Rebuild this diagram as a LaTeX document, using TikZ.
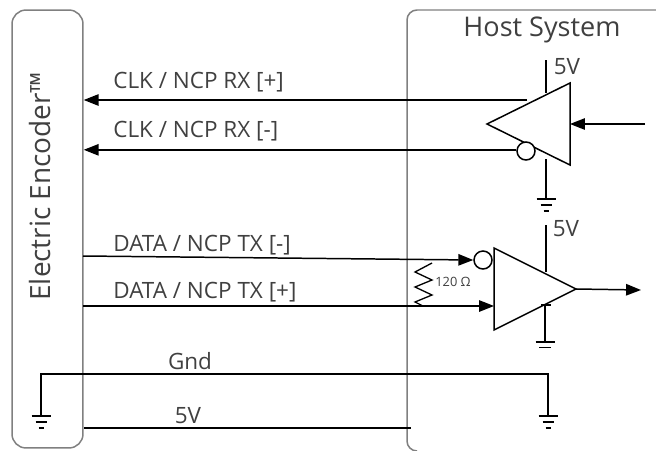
\documentclass[tikz,border=0pt]{standalone}
\usepackage{fontspec}
\setmainfont{Open Sans}
\usetikzlibrary{
    arrows.meta,
    calc,
    positioning
}
\definecolor{boxgray}{gray}{0.5}
\definecolor{textgray}{gray}{0.25}
\tikzset{
    wire/.style={line width=0.85pt, black},
    sig/.style={wire, -{Triangle[length=8.5pt, width=6.5pt]}},
    frame/.style={line width=0.85pt, boxgray},
    label/.style={text=textgray, font=\fontsize{12.8}{14}\selectfont, inner sep=0pt},
    bubble/.style={draw, wire, circle, fill=white, inner sep=0pt, minimum size=0.36cm},
    pics/earth/.style={code={
        \draw[wire] (-9.5, 0) -- (9.5, 0) (-5.5, 6) -- (5.5, 6) (-2.5, 12) -- (2.5, 12);
    }},
    pics/earthshort/.style={code={
        \draw[wire] (-9.5, 0) -- (9.5, 0) (-6, 5.5) -- (6, 5.5);
    }}
}
\begin{document}
\begin{tikzpicture}[x=0.02cm, y=-0.02cm]
    \useasboundingbox (0, 0) rectangle (656, 450);

    % boxes
    \node[draw, frame, rounded corners=0.28cm, minimum width=1.42cm, minimum height=8.76cm] (encoder) at (47.5, 229) {};
    \draw[frame, rounded corners=0.2cm] (656, 10) -- (407, 10) -- (407, 451) -- (416, 451);
    \node[label, rotate=90, font=\fontsize{15.9}{18}\selectfont] (encodername) at (40, 186) {Electric Encoder™};
    \node[label, font=\fontsize{15.4}{18}\selectfont] (hostname) at (542, 30) {Host System};

    % receiver
    \coordinate (rxtip) at (487, 124);
    \coordinate (rxtop) at (570, 83);
    \coordinate (rxbot) at (570, 165);
    \coordinate (rxplus) at (527, 100);
    \coordinate (rxin) at (645, 124);
    \coordinate (rxvcc) at (546, 60);
    \coordinate (rxvccend) at (546, 93);
    \coordinate (rxgnd) at (546, 159);
    \coordinate (rxgndend) at (546, 199);
    \draw[wire, line join=miter] (rxtip) -- (rxtop) -- (rxbot) -- cycle;
    \node[bubble] (rxbubble) at (526, 151) {};
    \draw[wire] (rxvcc) -- (rxvccend);
    \draw[wire] (rxgnd) -- (rxgndend);
    \pic at (rxgndend) {earth};
    \draw[sig] (rxin) -- (rxin -| rxbot);
    \draw[sig] (rxplus) -- (rxplus -| encoder.east);
    \draw[sig] (rxbubble.173) -- (rxbubble.173 -| encoder.east);
    \node[label, anchor=west] (rxplusname) at (113, 82) {CLK / NCP RX [+]};
    \node[label, anchor=west] (rxminusname) at (113, 131) {CLK / NCP RX [-]};
    \node[label] (rxvccname) at (567, 67) {5V};

    % driver side
    \coordinate (txtop) at (494, 248);
    \coordinate (txbot) at (494, 330);
    \coordinate (txtip) at (576, 289);
    \coordinate (txout) at (641, 290);
    \coordinate (txvcc) at (546, 225);
    \coordinate (txvccend) at (546, 272);
    \coordinate (txgnd) at (545, 305);
    \coordinate (txgndend) at (545, 342);
    \coordinate (txminus) at (83, 256);
    \coordinate (txplus) at (83, 306);
    \draw[wire, line join=miter] (txtop) -- (txbot) -- (txtip) -- cycle;
    \node[bubble] (txbubble) at (483, 260) {};
    \draw[wire] (txvcc) -- (txvccend);
    \draw[wire] (txgnd) -- (txgndend);
    \draw[wire] ($(txgnd)+(-4, 0)$) -- ($(txgnd)+(6, 0)$);
    \pic at (txgndend) {earthshort};
    \draw[sig] (txtip) -- (txout);
    \draw[sig] (txminus) -- (txbubble.west);
    \draw[sig] (txplus) -- (txplus -| txtop);
    \draw[wire, line width=0.75pt] (432, 263) -- (415, 272) -- (432, 280) -- (415, 287) -- (432, 295) -- (415, 302) -- (423, 306);
    \node[label, font=\fontsize{7.3}{8}\selectfont, anchor=west] (termname) at (435, 282) {120 Ω};
    \node[label, anchor=west] (txminusname) at (113, 245) {DATA / NCP TX [-]};
    \node[label, anchor=west] (txplusname) at (113, 292) {DATA / NCP TX [+]};
    \node[label] (txvccname) at (566, 229) {5V};

    % supply wires
    \coordinate (gndleft) at (41, 416);
    \coordinate (gndright) at (548, 416);
    \coordinate (vccleft) at (84, 428);
    \coordinate (vccright) at (411, 428);
    \draw[wire] (gndleft) |- (gndright |- 0, 374) -- (gndright);
    \pic at (gndleft) {earth};
    \pic at (gndright) {earth};
    \draw[wire] (vccleft) -- (vccright);
    \node[label] (gndname) at (190, 361) {Gnd};
    \node[label] (vccname) at (188, 416) {5V};
\end{tikzpicture}
\end{document}
